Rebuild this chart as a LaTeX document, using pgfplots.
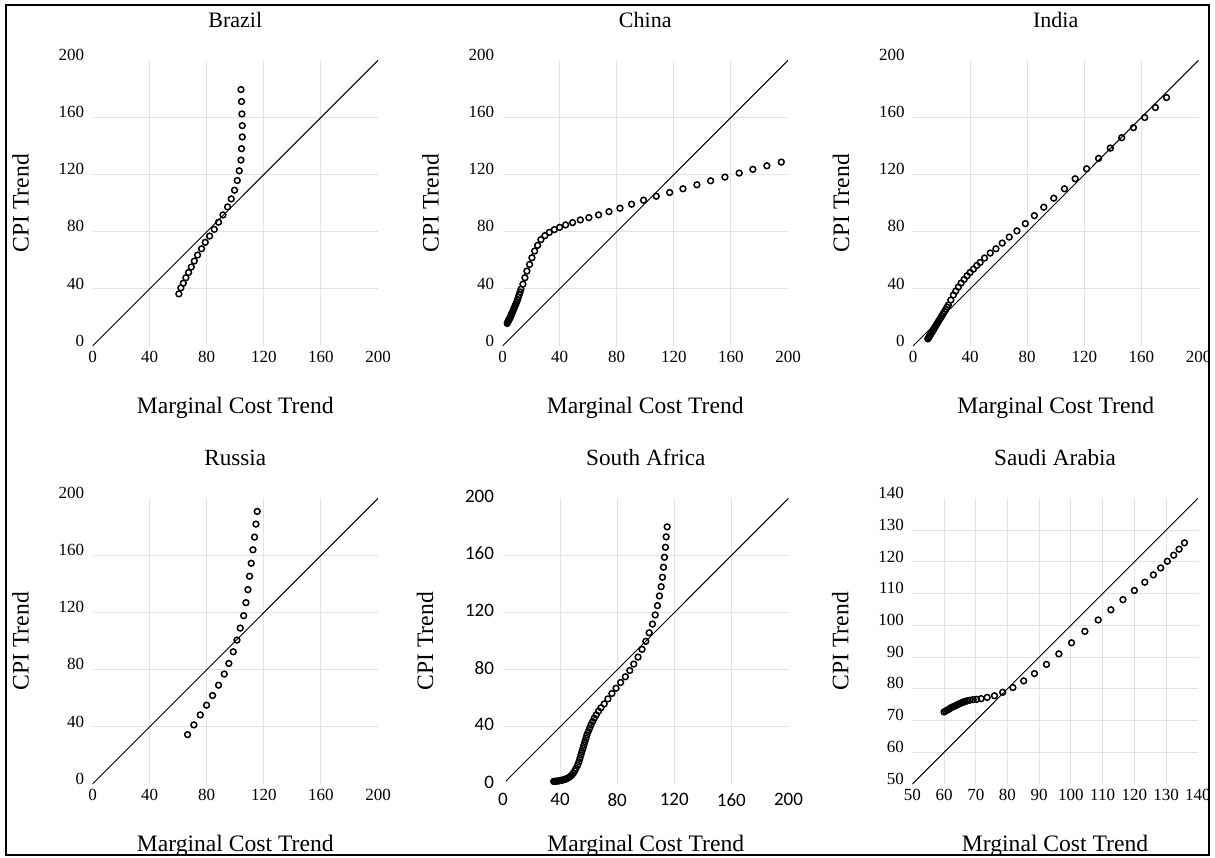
\documentclass[border=0pt]{standalone}
\usepackage{fontspec}
\setmainfont{Liberation Serif}
\newfontfamily\calibri{Carlito}
\usepackage{pgfplots}
\pgfplotsset{compat=1.18}
\definecolor{gridgray}{RGB}{226,226,226}

\pgfplotsset{
  panel/.style={
    scale only axis, width=142.75pt, height=142.8pt,
    anchor=south west,
    axis line style={draw=none}, major tick length=0pt,
    grid=major, major grid style={gridgray, line width=0.5pt},
    extra x tick style={grid=none}, extra y tick style={grid=none},
    /pgf/number format/assume math mode=true,
    tick label style={font=\fontsize{8.5}{10}\selectfont},
    xticklabel style={inner sep=0pt, yshift=-2.6pt},
    yticklabel style={inner sep=0pt, xshift=-4pt, yshift=2.7pt},
    title style={font=\fontsize{11}{13}\selectfont, at={(axis description cs:0.5,1)}, anchor=base, yshift=10.5pt},
    xlabel style={font=\fontsize{11.8}{14}\selectfont, at={(axis description cs:0.5,0)}, anchor=base, yshift=-33.5pt},
    ylabel style={font=\fontsize{11.8}{14}\selectfont, at={(axis description cs:-0.224,0.5)}, anchor=base},
    xlabel={Marginal Cost Trend}, ylabel={CPI Trend},
    xmin=0, xmax=200, ymin=0, ymax=200,
    xtick={40,80,120,160}, ytick={40,80,120,160},
    extra x ticks={0,200}, extra y ticks={0,200},
  },
  pts/.style={only marks, mark=o, mark size=1.45pt, mark options={line width=0.75pt, draw=black}, black},
  diag/.style={black, line width=0.5pt, mark=none},
}

\begin{document}
\begin{tikzpicture}
\useasboundingbox (0pt,0pt) rectangle (607.5pt,-428.5pt);
\begin{scope}
\clip (3pt,-2.35pt) rectangle (604.35pt,-427.35pt);

% Brazil
\begin{axis}[panel, at={(46.25pt,-173pt)}, title={Brazil}]
\addplot[diag] coordinates {(0,0)(200,200)};
\addplot[pts] coordinates {
(60.5,36.5)(61.9,40.7)(63.6,44.0)(65.4,47.8)(67.3,51.5)(69.2,55.3)(71.3,59.5)
(73.6,63.7)(76.4,68.1)(79.0,72.6)(82.0,77.0)(85.3,81.7)(88.3,86.7)(91.4,91.8)
(94.6,97.4)(97.2,103.0)(99.5,109.1)(101.4,115.9)(102.8,122.7)(104.0,130.2)
(104.4,138.2)(104.9,146.4)(104.9,154.3)(104.7,162.5)(104.4,171.2)(104.0,179.6)
};
\end{axis}

% China
\begin{axis}[panel, at={(251.25pt,-173pt)}, title={China}]
\addplot[diag] coordinates {(0,0)(200,200)};
\addplot[pts] coordinates {
(3.3,15.8)(3.6,16.6)(3.9,17.2)(4.2,17.8)(4.5,18.4)(4.9,19.0)(5.3,19.8)(5.7,20.6)
(6.0,21.5)(6.4,22.5)(6.8,23.4)(7.3,24.4)(7.7,25.5)(8.2,26.7)(8.8,28.1)(9.4,29.5)
(10.0,31.0)(10.6,32.6)(11.1,34.2)(11.7,35.8)(12.3,37.8)(12.9,39.8)(14.3,43.3)
(15.7,47.8)(17.1,52.5)(19.0,57.1)(20.6,61.8)(22.5,66.5)(24.6,70.5)(26.9,74.5)
(29.7,77.3)(32.8,79.6)(36.3,81.5)(40.0,83.1)(44.2,84.8)(49.1,86.4)(54.5,88.3)
(60.5,89.9)(67.3,91.8)(74.6,94.1)(82.3,96.5)(90.4,99.3)(98.8,102.1)(107.7,104.9)
(117.1,107.5)(126.4,110.1)(136.2,112.9)(145.8,115.7)(155.8,118.3)(165.8,121.1)
(175.4,123.7)(185.2,126.2)(195.3,128.8)
};
\end{axis}

% India
\begin{axis}[panel, at={(456.5pt,-173pt)}, title={India}]
\addplot[diag] coordinates {(0,0)(200,200)};
\addplot[pts] coordinates {
(10.4,5.0)(10.8,5.6)(11.2,6.3)(11.6,7.0)(12.1,7.8)(12.6,8.6)(13.1,9.4)(13.7,10.4)
(14.3,11.4)(14.9,12.4)(15.6,13.5)(16.3,14.7)(17.0,15.9)(17.8,17.2)(18.6,18.5)
(19.4,19.8)(20.3,21.2)(21.2,22.7)(22.1,24.2)(23.0,25.7)(23.9,27.2)(24.8,28.7)
(26.5,32.2)(28.3,35.7)(30.0,38.5)(31.8,41.3)(33.7,44.1)(35.8,46.6)(37.9,49.2)
(40.0,51.5)(42.3,53.8)(44.7,56.4)(47.0,58.5)(50.1,61.6)(54.1,65.1)(58.1,68.1)
(62.5,72.1)(67.4,76.3)(72.8,80.6)(78.7,85.7)(85.0,91.3)(91.6,97.2)(98.6,103.5)
(106.1,110.1)(113.6,117.1)(121.6,124.1)(130.0,131.4)(138.2,138.6)(146.2,145.9)
(154.4,152.9)(162.3,160.0)(169.8,167.0)(177.6,174.0)
};
\end{axis}

% Russia
\begin{axis}[panel, at={(46.25pt,-392pt)}, title={Russia},
  title style={font=\fontsize{11.6}{14}\selectfont}]
\addplot[diag] coordinates {(0,0)(200,200)};
\addplot[pts] coordinates {
(66.6,34.6)(71.0,41.4)(75.5,48.4)(79.9,55.2)(84.1,62.0)(88.3,69.2)(92.3,77.0)
(95.5,84.4)(98.6,92.6)(101.2,100.8)(103.5,109.2)(105.9,117.9)(107.5,127.0)
(108.9,136.1)(110.0,145.5)(111.2,154.6)(112.4,164.0)(113.5,172.9)(114.5,182.0)
(115.4,190.9)
};
\end{axis}

% South Africa
\begin{axis}[panel, at={(251.5pt,-392pt)}, title={South Africa},
  title style={font=\fontsize{11.6}{14}\selectfont},
  tick label style={font=\calibri\fontsize{9.5}{11}\selectfont},
  xticklabel style={yshift=-1.8pt},
  yticklabel style={xshift=-0.3pt, yshift=-1.7pt},
  ylabel style={at={(axis description cs:-0.245,0.5)}}]
\addplot[diag] coordinates {(2,2)(200,200)};
\addplot[pts] coordinates {
(35.5,1.8)(36.5,1.9)(37.5,2.0)(38.5,2.1)(39.5,2.3)(40.5,2.5)(41.5,2.7)(42.5,3.0)
(43.5,3.3)(44.5,3.7)(45.5,4.2)(46.5,4.8)(47.5,5.6)(48.5,6.6)(49.4,7.8)(50.3,9.3)
(51.1,11.0)(52.3,13.3)(53.2,15.6)(53.9,18.0)(54.6,20.4)(55.3,22.7)(56.0,25.1)
(56.7,27.4)(57.4,29.7)(58.1,32.1)(58.8,34.4)(59.7,36.7)(60.7,39.1)(61.6,41.4)
(62.8,43.7)(63.9,46.1)(65.3,48.4)(66.9,51.0)(68.6,53.4)(70.9,56.1)(73.5,59.6)
(76.3,63.4)(79.2,67.1)(82.4,71.1)(85.7,75.1)(88.8,79.5)(91.6,84.0)(94.6,88.9)
(97.4,94.3)(100.0,99.9)(102.4,105.9)(104.7,112.0)(106.6,118.4)(108.2,124.9)
(109.6,131.7)(110.8,138.2)(111.7,144.8)(112.4,151.8)(113.1,158.8)(113.8,165.8)
(114.3,173.1)(115.0,180.1)
};
\end{axis}

% Saudi Arabia
\begin{axis}[panel, at={(456.15pt,-392pt)}, title={Saudi Arabia},
  title style={font=\fontsize{11.6}{14}\selectfont},
  xlabel={Mrginal Cost Trend},
  xmin=50, xmax=140, ymin=50, ymax=140,
  xtick={60,70,...,130}, ytick={60,70,...,130},
  extra x ticks={50,140}, extra y ticks={50,140}]
\addplot[diag] coordinates {(50,50)(140,140)};
\addplot[pts] coordinates {
(60.0,72.7)(60.5,73.0)(61.0,73.3)(61.5,73.5)(62.0,73.9)(62.5,74.2)(63.0,74.4)
(63.5,74.6)(64.0,74.9)(64.4,75.1)(64.9,75.3)(65.3,75.5)(65.8,75.7)(66.2,75.9)
(66.7,76.0)(67.2,76.2)(68.1,76.4)(69.2,76.6)(70.3,76.7)(71.7,76.9)(73.6,77.3)
(75.9,77.8)(78.5,78.9)(81.7,80.4)(85.1,82.5)(88.5,84.8)(92.3,87.7)(96.2,91.0)
(100.2,94.5)(104.4,98.1)(108.6,101.7)(112.6,104.9)(116.4,108.1)(120.0,111.0)
(123.3,113.6)(126.0,115.9)(128.3,118.1)(130.4,120.2)(132.4,122.1)(134.1,124.0)
(135.8,126.0)
};
\end{axis}
\end{scope}

\draw[line width=1pt] (3pt,-2.35pt) rectangle (604.35pt,-427.35pt);
\end{tikzpicture}
\end{document}
